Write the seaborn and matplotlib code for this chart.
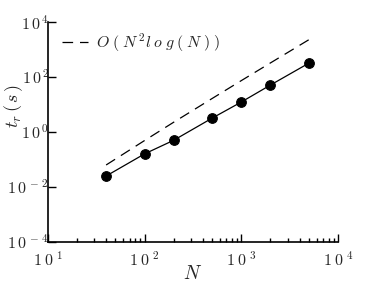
import numpy as np
import pandas as pd
import matplotlib
matplotlib.use('Agg')
import matplotlib.pyplot as plt
import seaborn as sns
from matplotlib.ticker import LogLocator, FixedLocator, NullFormatter

# data
n_vals = [40, 100, 200, 500, 1000, 2000, 5000]
t_vals = [0.025, 0.16, 0.5, 3.2, 12.3, 51, 320]
ref_vals = [0.063, 0.49, 2.27, 16.6, 74, 325, 2280]

sns.set_style('ticks')
plt.rcParams['mathtext.fontset'] = 'cm'
plt.rcParams['font.family'] = ['DejaVu Serif']

df = pd.DataFrame({'N': n_vals, 't': t_vals, 'ref': ref_vals})

fig = plt.figure(figsize=(3.74, 2.82), dpi=100)
ax = fig.add_axes([0.128, 0.142, 0.776, 0.780])

sns.lineplot(data=df, x='N', y='ref', ax=ax, color='black', lw=0.9,
             linestyle=(0, (8.5, 5.5)),
             label=r'$O\;(\;N^{\,2}l\;o\;g\;(\;N\;)\;)$')
sns.lineplot(data=df, x='N', y='t', ax=ax, color='black', lw=0.9,
             marker='o', markersize=7, markeredgecolor='black')

ax.set_xscale('log')
ax.set_yscale('log')
ax.set_xlim(10, 1e4)
ax.set_ylim(1e-4, 1e4)

ax.xaxis.set_major_locator(FixedLocator([10, 100, 1000, 10000]))
ax.set_xticklabels([r'$1\;0^{\;1}$', r'$1\;0^{\;2}$', r'$1\;0^{\;3}$', r'$1\;0^{\;4}$'])
ax.xaxis.set_minor_locator(LogLocator(base=10, subs=np.arange(2, 10)))
ax.xaxis.set_minor_formatter(NullFormatter())
ax.yaxis.set_major_locator(FixedLocator([1e-4, 1e-2, 1, 1e2, 1e4]))
ax.set_yticklabels([r'$1\,0^{\,-\,4}$', r'$1\,0^{\,-\,2}$', r'$1\,0^{\,0}$',
                    r'$1\,0^{\,2}$', r'$1\,0^{\,4}$'])
ax.yaxis.set_minor_locator(FixedLocator([]))

ax.tick_params(which='both', direction='in', labelsize=11.5, color='black', width=1)
ax.tick_params(which='major', length=6)
ax.tick_params(which='minor', length=3)
ax.tick_params(axis='y', pad=-1)
ax.tick_params(axis='x', pad=7)
for s in ['left', 'bottom']:
    ax.spines[s].set_linewidth(1.2)
    ax.spines[s].set_color('black')
sns.despine(ax=ax)

ax.set_xlabel(r'$N$', fontsize=14, labelpad=-4)
ax.set_ylabel(r'$t_r\,(\,s\,)$', fontsize=13)
ax.yaxis.set_label_coords(-0.08, 0.62)

leg = ax.legend(loc='upper left', frameon=False, fontsize=11.5, handlelength=1.6,
                handletextpad=0.5, bbox_to_anchor=(0.0, 1.02))

fig.savefig('out.png', dpi=100)
